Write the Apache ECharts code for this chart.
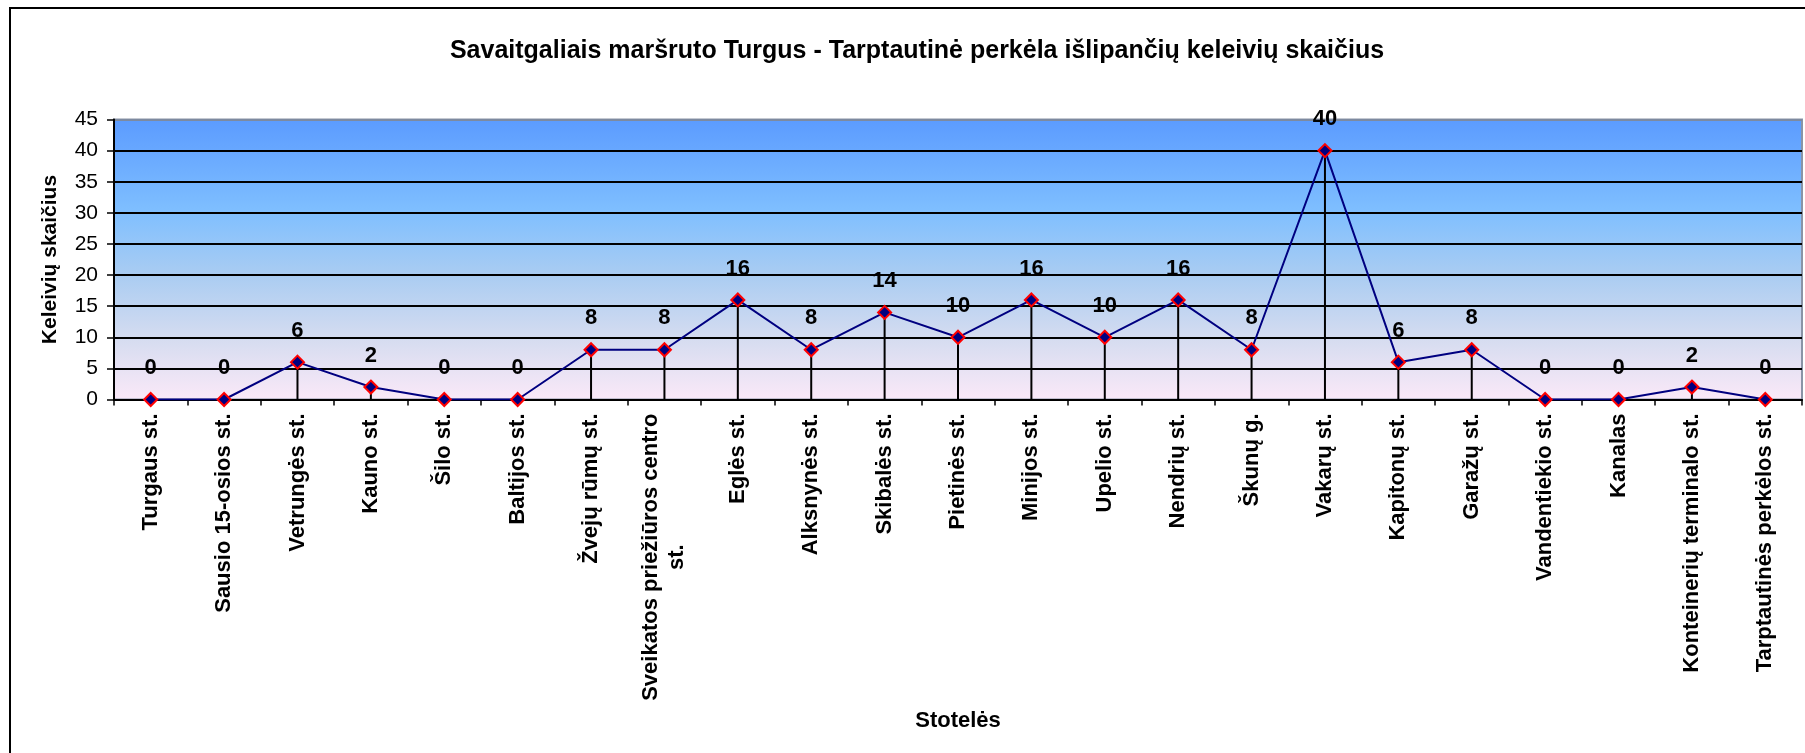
<!DOCTYPE html>
<html>
<head>
<meta charset="utf-8">
<script src="https://cdn.jsdelivr.net/npm/echarts@6/dist/echarts.min.js"></script>
<style>
  html, body { margin: 0; padding: 0; background: #fff; }
  #chart { width: 1805px; height: 753px; }
</style>
</head>
<body>
<div id="chart"></div>
<script>
// stotelės ir išlipančių keleivių skaičius
const stops = [
  "Turgaus st.", "Sausio 15-osios st.", "Vetrungės st.", "Kauno st.", "Šilo st.",
  "Baltijos st.", "Žvejų rūmų st.", "Sveikatos priežiūros centro st.", "Eglės st.",
  "Alksnynės st.", "Skibalės st.", "Pietinės st.", "Minijos st.", "Upelio st.",
  "Nendrių st.", "Škunų g.", "Vakarų st.", "Kapitonų st.", "Garažų st.",
  "Vandentiekio st.", "Kanalas", "Konteinerių terminalo st.", "Tarptautinės perkėlos st."
];
const passengers = [0, 0, 6, 2, 0, 0, 8, 8, 16, 8, 14, 10, 16, 10, 16, 8, 40, 6, 8, 0, 0, 2, 0];
const yTicks = [0, 5, 10, 15, 20, 25, 30, 35, 40, 45];

const FONT = "Liberation Sans, Arial, sans-serif";

let chart = echarts.init(document.getElementById("chart"));

// ilgus pavadinimus laužom į dvi eilutes
function wrapLabel(name) {
  if (name.length <= 26) return name;
  let i = name.lastIndexOf(" ");
  return "{c|" + name.slice(0, i) + "}\n{c|" + name.slice(i + 1) + "}";
}

let option = {
  animation: false,
  title: {
    text: "Savaitgaliais maršruto Turgus - Tarptautinė perkėla išlipančių keleivių skaičius",
    left: 912,
    top: 34,
    textAlign: "center",
    textStyle: { fontFamily: FONT, fontSize: 25, fontWeight: "bold", color: "#000" }
  },
  graphic: [
    {
      type: "rect",
      shape: { x: 10, y: 8, width: 1830, height: 800 },
      style: { fill: "none", stroke: "#000", lineWidth: 2 },
      silent: true
    }
  ],
  grid: {
    left: 114,
    right: 3,
    top: 119.5,
    bottom: 353.5,
    show: true,
    borderColor: "#8a94a6",
    borderWidth: 2,
    backgroundColor: new echarts.graphic.LinearGradient(0, 0, 0, 1, [
      { offset: 0, color: "#5b9bff" },
      { offset: 0.33, color: "#7fbfff" },
      { offset: 0.55, color: "#a9ccf2" },
      { offset: 0.78, color: "#d5dcf0" },
      { offset: 1, color: "#fbe9f8" }
    ])
  },
  xAxis: {
    type: "category",
    data: stops,
    name: "Stotelės",
    nameLocation: "middle",
    nameGap: 310,
    nameTextStyle: { fontFamily: FONT, fontSize: 22, fontWeight: "bold", color: "#000" },
    axisLine: { lineStyle: { color: "#000", width: 2 } },
    axisTick: { show: true, length: 6, lineStyle: { color: "#000", width: 1.5 } },
    axisLabel: {
      interval: 0,
      rotate: 90,
      margin: 14,
      color: "#000",
      fontFamily: FONT,
      fontSize: 22,
      fontWeight: "bold",
      formatter: wrapLabel,
      rich: {
        c: { align: "center", fontFamily: FONT, fontSize: 22, fontWeight: "bold", color: "#000", lineHeight: 26 }
      }
    },
    splitLine: { show: false }
  },
  yAxis: {
    type: "value",
    min: yTicks[0],
    max: yTicks[yTicks.length - 1],
    interval: yTicks[1] - yTicks[0],
    name: "Keleivių skaičius",
    nameLocation: "middle",
    nameGap: 53,
    nameTextStyle: { fontFamily: FONT, fontSize: 21, fontWeight: "bold", color: "#000" },
    axisLine: { show: true, lineStyle: { color: "#000", width: 2 } },
    axisTick: { show: true, length: 7, lineStyle: { color: "#000", width: 1.5 } },
    axisLabel: { color: "#000", fontFamily: FONT, fontSize: 21, margin: 16 },
    splitLine: {
      show: true,
      lineStyle: {
        color: ["#000", "#000", "#000", "#000", "#000", "#000", "#000", "#000", "#000", "#7d8aa0"],
        width: 2
      }
    }
  },
  series: [
    {
      // vertikalios linijos nuo taško iki ašies
      type: "bar",
      data: passengers,
      barWidth: 2,
      itemStyle: { color: "#000" },
      z: 2,
      silent: true
    },
    {
      type: "line",
      data: passengers,
      z: 3,
      symbol: "diamond",
      symbolSize: 13,
      lineStyle: { color: "#000080", width: 2 },
      itemStyle: { color: "#000080", borderColor: "#ff0000", borderWidth: 2 },
      label: {
        show: true,
        position: "top",
        distance: 13,
        color: "#000",
        fontFamily: FONT,
        fontSize: 22,
        fontWeight: "bold"
      }
    }
  ]
};

chart.setOption(option);
</script>
</body>
</html>
